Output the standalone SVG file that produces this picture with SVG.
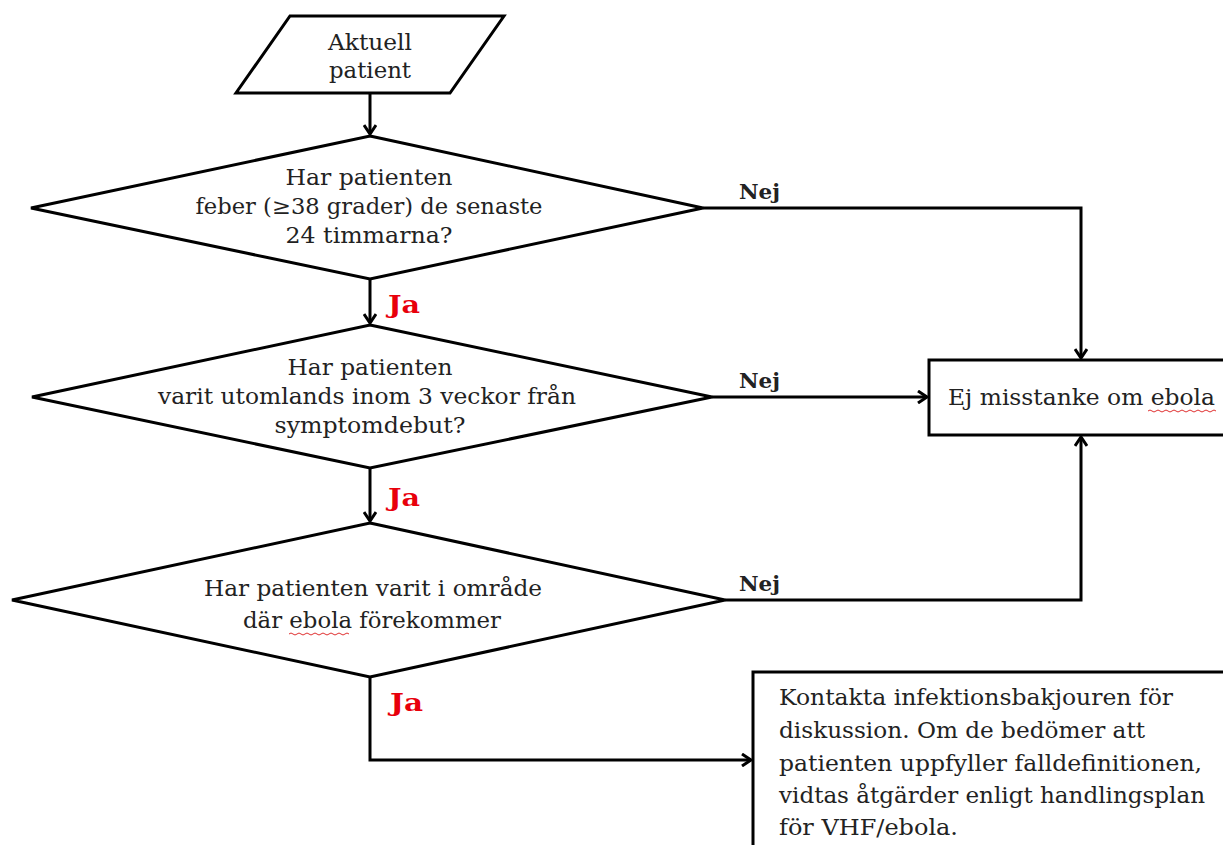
<svg xmlns="http://www.w3.org/2000/svg" width="1223" height="845" viewBox="0 0 1223 845">
<style>
.shape{fill:#fff;stroke:#000;stroke-width:3;stroke-linejoin:miter}
.t{font-family:"DejaVu Serif","Liberation Serif",serif;font-size:22px;fill:#222;text-anchor:middle}
.tl{font-family:"DejaVu Serif","Liberation Serif",serif;font-size:22px;fill:#222}
.ja{font-family:"DejaVu Serif","Liberation Serif",serif;font-size:24px;font-weight:bold;fill:#e8000b}
.nej{font-family:"DejaVu Serif","Liberation Serif",serif;font-size:21px;font-weight:bold;fill:#222}
.c{fill:none;stroke:#000;stroke-width:3}
.sq{fill:none;stroke:#e03030;stroke-width:1}
</style>
<defs>
<marker id="arr" markerWidth="14" markerHeight="14" refX="11" refY="7" orient="auto" markerUnits="userSpaceOnUse">
<path d="M2,1 L11,7 L2,13" fill="none" stroke="#000" stroke-width="3"/>
</marker>
</defs>
<g id="start">
<polygon class="shape" points="290,16 504,16 450,93 236,93"/>
<text class="t" x="370" y="50" textLength="84" lengthAdjust="spacingAndGlyphs">Aktuell</text>
<text class="t" x="370" y="78" textLength="82" lengthAdjust="spacingAndGlyphs">patient</text>
</g>
<g id="q1">
<polygon class="shape" points="370,136 703,208 370,279 31,208"/>
<text class="t" x="369" y="185" textLength="167" lengthAdjust="spacingAndGlyphs">Har patienten</text>
<text class="t" x="369" y="214" textLength="347" lengthAdjust="spacingAndGlyphs">feber (≥38 grader) de senaste</text>
<text class="t" x="369" y="243" textLength="167" lengthAdjust="spacingAndGlyphs">24 timmarna?</text>
</g>
<g id="q2">
<polygon class="shape" points="370,325 712,397 370,468 32,397"/>
<text class="t" x="370" y="375" textLength="165" lengthAdjust="spacingAndGlyphs">Har patienten</text>
<text class="t" x="367" y="404" textLength="418" lengthAdjust="spacingAndGlyphs">varit utomlands inom 3 veckor från</text>
<text class="t" x="370" y="433" textLength="191" lengthAdjust="spacingAndGlyphs">symptomdebut?</text>
</g>
<g id="q3">
<polygon class="shape" points="370,523 725,600 370,677 12,600"/>
<text class="t" x="373" y="596" textLength="338" lengthAdjust="spacingAndGlyphs">Har patienten varit i område</text>
<text class="t" x="372" y="628" textLength="258" lengthAdjust="spacingAndGlyphs">där ebola förekommer</text>
<path class="sq" d="M289,634 q2,-2 4,0 t4,0 t4,0 t4,0 t4,0 t4,0 t4,0 t4,0 t4,0 t4,0 t4,0 t4,0 t4,0 t4,0 t4,0"/>
</g>
<g id="noEbola">
<rect class="shape" x="929" y="360" width="300" height="75"/>
<text class="tl" x="948" y="405" textLength="267" lengthAdjust="spacingAndGlyphs">Ej misstanke om ebola</text>
<path class="sq" d="M1148,411 q2,-2 4,0 t4,0 t4,0 t4,0 t4,0 t4,0 t4,0 t4,0 t4,0 t4,0 t4,0 t4,0 t4,0 t4,0 t4,0 t4,0 t4,0"/>
</g>
<g id="contact">
<path class="shape" d="M753,850 L753,672 L1230,672 L1230,850"/>
<text class="tl" x="779" y="705" textLength="394" lengthAdjust="spacingAndGlyphs">Kontakta infektionsbakjouren för</text>
<text class="tl" x="779" y="738" textLength="366" lengthAdjust="spacingAndGlyphs">diskussion. Om de bedömer att</text>
<text class="tl" x="779" y="771" textLength="423" lengthAdjust="spacingAndGlyphs">patienten uppfyller falldefinitionen,</text>
<text class="tl" x="779" y="803" textLength="426" lengthAdjust="spacingAndGlyphs">vidtas åtgärder enligt handlingsplan</text>
<text class="tl" x="779" y="835" textLength="179" lengthAdjust="spacingAndGlyphs">för VHF/ebola.</text>
</g>
<g id="connectors">
<line class="c" x1="370" y1="93" x2="370" y2="134" marker-end="url(#arr)"/>
<line class="c" x1="370" y1="279" x2="370" y2="323" marker-end="url(#arr)"/>
<line class="c" x1="370" y1="468" x2="370" y2="521" marker-end="url(#arr)"/>
<polyline class="c" points="703,208 1081,208 1081,358" marker-end="url(#arr)"/>
<line class="c" x1="712" y1="397" x2="927" y2="397" marker-end="url(#arr)"/>
<polyline class="c" points="725,600 1081,600 1081,437" marker-end="url(#arr)"/>
<polyline class="c" points="370,677 370,760 751,760" marker-end="url(#arr)"/>
<text class="nej" x="739" y="199" textLength="41" lengthAdjust="spacingAndGlyphs">Nej</text>
<text class="nej" x="739" y="388" textLength="41" lengthAdjust="spacingAndGlyphs">Nej</text>
<text class="nej" x="739" y="591" textLength="41" lengthAdjust="spacingAndGlyphs">Nej</text>
<text class="ja" x="388" y="313" textLength="32" lengthAdjust="spacingAndGlyphs">Ja</text>
<text class="ja" x="388" y="506" textLength="32" lengthAdjust="spacingAndGlyphs">Ja</text>
<text class="ja" x="390" y="711" textLength="33" lengthAdjust="spacingAndGlyphs">Ja</text>
</g>
</svg>
